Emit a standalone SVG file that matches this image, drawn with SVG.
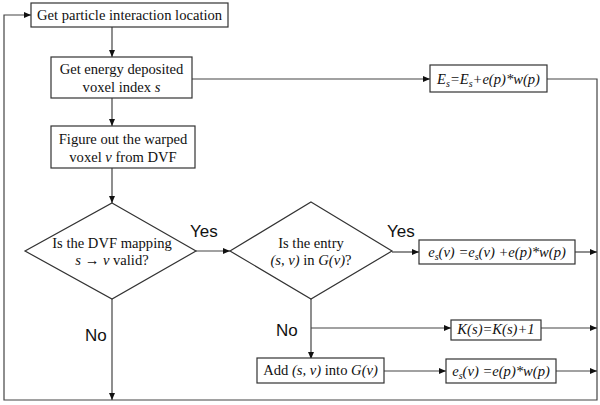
<svg xmlns="http://www.w3.org/2000/svg" width="600" height="405" viewBox="0 0 600 405">
<style>
.box{fill:#fff;stroke:#333;stroke-width:1.2}
.ln{fill:none;stroke:#444;stroke-width:1.2}
.t{font-family:"Liberation Serif",serif;font-size:14.6px;fill:#111}
.i{font-style:italic}
.lab{font-family:"Liberation Sans",Arial,sans-serif;font-size:17px;fill:#111}
</style>
<defs>
<marker id="ah" markerWidth="8" markerHeight="6" refX="7" refY="3" orient="auto" markerUnits="userSpaceOnUse">
<path d="M0,0 L7,3 L0,6 Z" fill="#111"/>
</marker>
</defs>
<rect width="600" height="405" fill="#fff"/>
<g id="connectors">
<line class="ln" x1="112" y1="27" x2="112" y2="57" marker-end="url(#ah)"/>
<line class="ln" x1="112" y1="98" x2="112" y2="126" marker-end="url(#ah)"/>
<line class="ln" x1="112" y1="168" x2="112" y2="203" marker-end="url(#ah)"/>
<line class="ln" x1="192" y1="79" x2="430" y2="79" marker-end="url(#ah)"/>
<polyline class="ln" points="547,79 597,79 597,400 4,400 4,15 31,15" marker-end="url(#ah)"/>
<line class="ln" x1="196" y1="251" x2="230" y2="251" marker-end="url(#ah)"/>
<line class="ln" x1="112" y1="299" x2="112" y2="400" marker-end="url(#ah)"/>
<line class="ln" x1="392" y1="252" x2="419" y2="252" marker-end="url(#ah)"/>
<line class="ln" x1="575" y1="252" x2="597" y2="252" marker-end="url(#ah)"/>
<line class="ln" x1="311" y1="299" x2="311" y2="359" marker-end="url(#ah)"/>
<line class="ln" x1="311" y1="328" x2="451" y2="328" marker-end="url(#ah)"/>
<line class="ln" x1="541" y1="328" x2="597" y2="328" marker-end="url(#ah)"/>
<line class="ln" x1="384" y1="371" x2="446" y2="371" marker-end="url(#ah)"/>
<line class="ln" x1="556" y1="371" x2="597" y2="371" marker-end="url(#ah)"/>
</g>
<g id="n1">
<rect class="box" x="31" y="3" width="197" height="24"/>
<text class="t" x="129.5" y="20" text-anchor="middle">Get particle interaction location</text>
</g>
<g id="n2">
<rect class="box" x="51" y="57" width="141" height="41"/>
<text class="t" x="121.5" y="74" text-anchor="middle">Get energy deposited</text>
<text class="t" x="121.5" y="92" text-anchor="middle">voxel index <tspan class="i">s</tspan></text>
</g>
<g id="n3">
<rect class="box" x="51" y="126" width="144" height="42"/>
<text class="t" x="123" y="144" text-anchor="middle">Figure out the warped</text>
<text class="t" x="123" y="162" text-anchor="middle">voxel <tspan class="i">v</tspan> from DVF</text>
</g>
<g id="n4">
<rect class="box" x="430" y="65" width="117" height="27"/>
<text class="t i" x="488.5" y="84" text-anchor="middle">E<tspan font-size="10" dy="3">s</tspan><tspan dy="-3">=E</tspan><tspan font-size="10" dy="3">s</tspan><tspan dy="-3">+e(p)*w(p)</tspan></text>
</g>
<g id="d1">
<polygon class="box" points="112,203 196,251 112,299 25,251"/>
<text class="t" x="112" y="248" text-anchor="middle">Is the DVF mapping</text>
<text class="t" x="112" y="265" text-anchor="middle" xml:space="preserve"><tspan class="i">s</tspan> <tspan font-weight="bold">→</tspan> <tspan class="i">v</tspan> valid?</text>
</g>
<text class="lab" x="190" y="237">Yes</text>
<text class="lab" x="85" y="341">No</text>
<g id="d2">
<polygon class="box" points="311,202 392,251 311,299 230,251"/>
<text class="t" x="311" y="248" text-anchor="middle">Is the entry</text>
<text class="t" x="311" y="265" text-anchor="middle"><tspan class="i">(s, v)</tspan> in <tspan class="i">G(v)</tspan>?</text>
</g>
<text class="lab" x="387" y="237">Yes</text>
<text class="lab" x="276" y="336">No</text>
<g id="n5">
<rect class="box" x="419" y="240" width="156" height="24"/>
<text class="t i" x="497" y="257" text-anchor="middle">e<tspan font-size="10" dy="3">s</tspan><tspan dy="-3">(v) =e</tspan><tspan font-size="10" dy="3">s</tspan><tspan dy="-3">(v) +e(p)*w(p)</tspan></text>
</g>
<g id="n6">
<rect class="box" x="451" y="320" width="90" height="20"/>
<text class="t i" x="496" y="334" text-anchor="middle">K(s)=K(s)+1</text>
</g>
<g id="n7">
<rect class="box" x="257" y="358" width="127" height="25"/>
<text class="t" x="320.5" y="375" text-anchor="middle">Add <tspan class="i">(s, v)</tspan> into <tspan class="i">G(v)</tspan></text>
</g>
<g id="n8">
<rect class="box" x="446" y="359" width="110" height="24"/>
<text class="t i" x="501" y="376" text-anchor="middle">e<tspan font-size="10" dy="3">s</tspan><tspan dy="-3">(v) =e(p)*w(p)</tspan></text>
</g>
</svg>
